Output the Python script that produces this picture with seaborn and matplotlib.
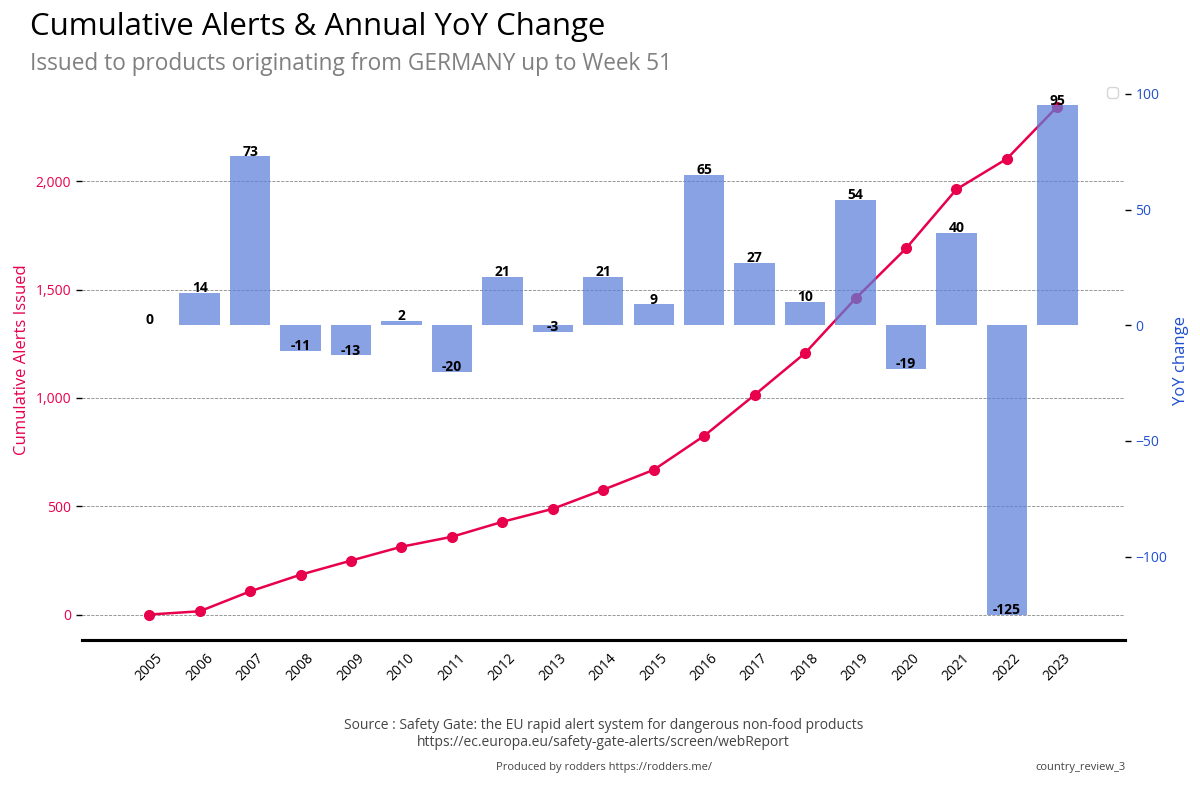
import warnings
import numpy as np
import pandas as pd
import seaborn as sns
import matplotlib.pyplot as plt
from matplotlib.ticker import FuncFormatter

warnings.filterwarnings("ignore")

sns.set_style("white")
plt.rcParams['font.family'] = ['Open Sans', 'DejaVu Sans']

# data
years = ['2005', '2006', '2007', '2008', '2009', '2010', '2011', '2012', '2013', '2014',
         '2015', '2016', '2017', '2018', '2019', '2020', '2021', '2022', '2023']
cumulative = [0, 15, 107, 184, 249, 313, 359, 428, 488, 576,
              668, 825, 1014, 1207, 1459, 1690, 1963, 2104, 2345]
yoy = [0, 14, 73, -11, -13, 2, -20, 21, -3, 21,
       9, 65, 27, 10, 54, -19, 40, -125, 95]

df = pd.DataFrame({'year': years, 'cumulative': cumulative, 'yoy': yoy})

red = '#e8004c'
blue = '#1f4fcf'

fig = plt.figure(figsize=(12, 8), dpi=100)
ax = fig.add_axes([0.068, 0.2, 0.8695, 0.7])

# cumulative line (left axis)
ax.plot(np.arange(len(df)), df['cumulative'], color=red, marker='o', markersize=7, linewidth=1.8, zorder=3)
ax.set_ylim(-117.5, 2467.5)
ax.set_yticks([0, 500, 1000, 1500, 2000])
ax.yaxis.set_major_formatter(FuncFormatter(lambda v, p: f'{int(v):,}'))
ax.tick_params(axis='y', colors='black', labelcolor=red, labelsize=10, length=4, width=1)
ax.set_ylabel('Cumulative Alerts Issued', color=red, fontsize=12)
ax.yaxis.grid(True, linestyle='--', color='#888888', linewidth=0.6)

# yoy bars (right axis), drawn over the line
ax2 = ax.twinx()
sns.barplot(data=df, x='year', y='yoy', ax=ax2, color='#5c7fd9', alpha=0.72, width=0.8,
            saturation=1, linewidth=0)
ax2.set_ylim(-136, 106)
ax2.set_yticks([-100, -50, 0, 50, 100])
ax2.tick_params(axis='y', colors='black', labelcolor=blue, labelsize=10, length=4, width=1)
ax2.set_ylabel('YoY change', color=blue, fontsize=12)
ax2.set_xlabel('')
for i, v in enumerate(df['yoy']):
    ax2.annotate(str(v), (i, v), xytext=(0, 3.5), textcoords='offset points',
                 ha='center', va='center', fontsize=10, fontweight='bold', color='black')
ax2.legend(loc='upper right')

ax.set_xlim(-1.34, 19.34)
ax.set_xticks(np.arange(len(df)))
ax.set_xticklabels(years, rotation=45, ha='center', fontsize=10)
ax.tick_params(axis='x', length=4, width=1, colors='black')

for a in (ax, ax2):
    for s in ('top', 'left', 'right'):
        a.spines[s].set_visible(False)
    a.spines['bottom'].set_visible(True)
    a.spines['bottom'].set_color('black')
    a.spines['bottom'].set_linewidth(2.2)

fig.text(0.025, 0.966, 'Cumulative Alerts & Annual YoY Change', fontsize=22.4, va='center', ha='left', color='black')
fig.text(0.025, 0.920, 'Issued to products originating from GERMANY up to Week 51', fontsize=16.3,
         va='center', ha='left', color='#808080')
fig.text(0.503, 0.082, 'Source : Safety Gate: the EU rapid alert system for dangerous non-food products\n'
         'https://ec.europa.eu/safety-gate-alerts/screen/webReport',
         fontsize=10, ha='center', va='center', color='#444444', linespacing=1.2)
fig.text(0.503, 0.041, 'Produced by rodders https://rodders.me/', fontsize=8, ha='center', va='center',
         color='#444444')
fig.text(0.938, 0.041, 'country_review_3', fontsize=8, ha='right', va='center', color='#444444')

fig.savefig('out.png', dpi=100)
